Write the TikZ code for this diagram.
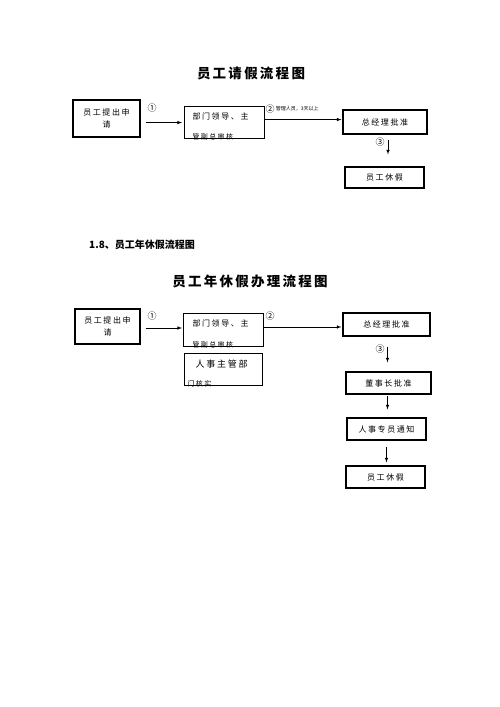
\documentclass[tikz,border=0pt]{standalone}
\usepackage{fontspec}
\newfontfamily\cjk{Noto Sans CJK SC}
\newfontfamily\cjkbox[LetterSpace=20]{Noto Sans CJK SC}
\usetikzlibrary{positioning}

\begin{document}
\begin{tikzpicture}[x=1pt, y=-1pt,
    box/.style={draw, line width=1.1pt, font=\cjkbox\fontsize{8}{12}\selectfont, align=center, inner sep=0pt},
    num/.style={font=\cjk\fontsize{9}{9}\selectfont, inner sep=0pt},
    title/.style={font=\cjk\bfseries\fontsize{13.5}{14}\selectfont, inner sep=0pt},
    flow/.style={->, >=latex, line width=0.6pt}]
    \useasboundingbox (0,0) rectangle (500,707);
    \node[title] (t1) at (251,73) {员\,工\,请\,假\,流\,程\,图};
    \node[box, minimum width=67pt, minimum height=37pt] (apply) at (106.5,118.5) {员工提出申\\请};
    \node[box, minimum width=80pt, minimum height=32pt, anchor=north west] (lead) at (184,106) {};
    \node[box, draw=none, anchor=north west] (leadtxt) at (192,112) {部门领导、主};
    \begin{scope}
    \clip (lead.north west) rectangle (lead.south east);
    \node[box, draw=none, anchor=north west, font=\cjkbox\fontsize{7}{7}\selectfont] (leadcut) at (192,133.5) {管副总审核};
    \end{scope}
    \node[box, minimum width=84pt, minimum height=24pt] (gm) at (385,122) {总经理批准};
    \node[box, minimum width=79pt, minimum height=21pt] (rest) at (384.5,177.5) {员工休假};
    \draw[flow, shorten <=5pt, shorten >=2pt] (apply.east |- lead.west) -- (lead.west);
    \draw[flow, shorten >=1pt] (lead.east) ++(0,-3) coordinate (s2) -- (s2 -| gm.west);
    \draw[flow, shorten <=5pt, shorten >=12pt] ([xshift=3pt]gm.south) -- ([xshift=3pt]gm.south |- rest.north);
    \node[num] (n1) at (152,108) {①};
    \node[num] (n2) at (270,109) {②};
    \node[right=1pt of n2, font=\cjk\fontsize{5}{5}\selectfont, inner sep=0pt] (n2txt) {管理人员，3天以上};
    \node[num] (n3) at (380,142) {③};
    \node[font=\cjk\bfseries\fontsize{10}{10}\selectfont, anchor=west, inner sep=0pt] (sec) at (89,245) {1.8、员工年休假流程图};
    \node[title] (t2) at (250,281) {员\,工\,年\,休\,假\,办\,理\,流\,程\,图};
    \node[box, minimum width=65pt, minimum height=35pt] (apply2) at (107.5,326.5) {员工提出申\\请};
    \node[box, minimum width=80pt, minimum height=33pt, anchor=north west] (lead2) at (183,313) {};
    \node[box, draw=none, anchor=north west] (lead2txt) at (192,319) {部门领导、主};
    \begin{scope}
    \clip (lead2.north west) rectangle (lead2.south east);
    \node[box, draw=none, anchor=north west, font=\cjkbox\fontsize{7}{7}\selectfont] (lead2cut) at (192,341.5) {管副总审核};
    \end{scope}
    \node[box, minimum width=78pt, minimum height=32pt, anchor=north west] (hr) at (184,353) {};
    \node[box, draw=none, anchor=north west, font=\cjkbox\fontsize{9}{12}\selectfont] (hrtxt) at (195,359) {人事主管部};
    \begin{scope}
    \clip (hr.north west) rectangle (hr.south east);
    \node[box, draw=none, anchor=north west, font=\cjkbox\fontsize{7}{7}\selectfont] (hrcut) at (187,380.5) {门核实};
    \end{scope}
    \node[box, minimum width=87pt, minimum height=23pt] (gm2) at (386.5,324.5) {总经理批准};
    \node[box, minimum width=85pt, minimum height=22pt] (chair) at (388.5,383) {董事长批准};
    \node[box, minimum width=79pt, minimum height=22pt] (notify) at (386.5,429) {人事专员通知};
    \node[box, minimum width=79pt, minimum height=22pt] (rest2) at (385.5,477) {员工休假};
    \draw[flow, shorten <=5pt, shorten >=1pt] (apply2.east |- 0,328) coordinate (s3) -- (s3 -| lead2.west);
    \draw[flow, shorten >=1pt] (lead2.east |- 0,327) coordinate (s4) -- (s4 -| gm2.west);
    \draw[flow, shorten <=10pt, shorten >=9pt] ([xshift=1pt]gm2.south) -- ([xshift=1pt]gm2.south |- chair.north);
    \draw[flow, shorten <=1pt, shorten >=8pt] ([xshift=-1pt]chair.south) -- ([xshift=-1pt]chair.south |- notify.north);
    \draw[flow, shorten <=6pt, shorten >=3pt] (notify.south) -- (notify.south |- rest2.north);
    \node[num] (m1) at (152,316) {①};
    \node[num] (m2) at (270,316) {②};
    \node[num] (m3) at (380,349) {③};
\end{tikzpicture}
\end{document}
